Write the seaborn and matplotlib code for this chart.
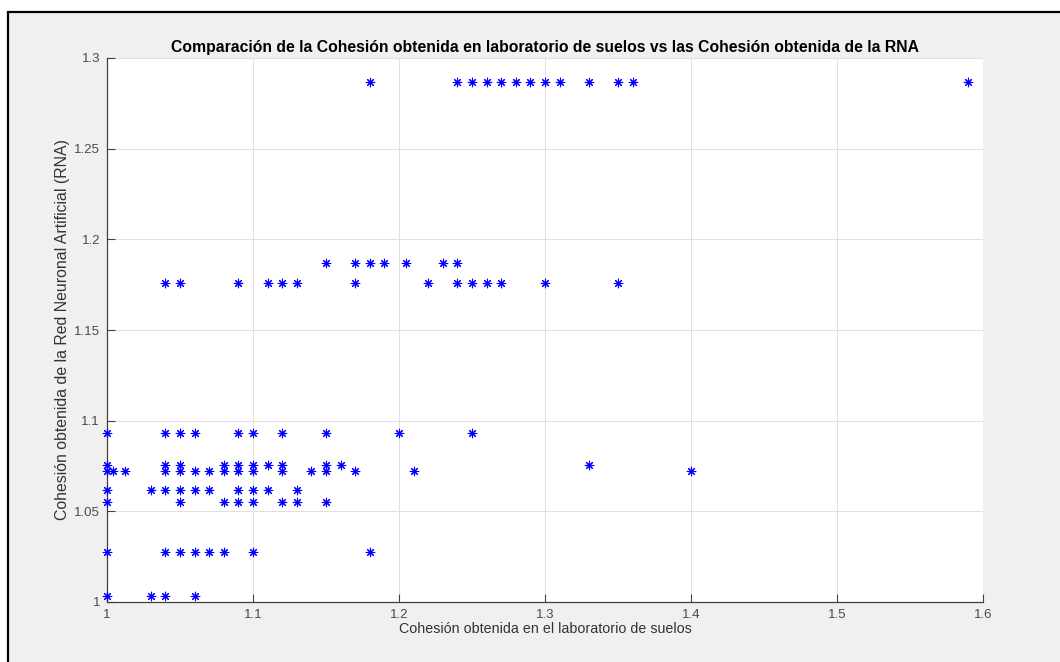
import matplotlib
matplotlib.use("Agg")
import matplotlib.pyplot as plt
from matplotlib.patches import Rectangle
import seaborn as sns
import pandas as pd

# Cohesión obtenida en laboratorio (x) y de la RNA (y)
cohesion_lab = [
    1.18, 1.24, 1.25, 1.26, 1.27, 1.28, 1.29, 1.30, 1.31, 1.33, 1.35, 1.36, 1.59,
    1.15, 1.17, 1.18, 1.19, 1.205, 1.23, 1.24,
    1.04, 1.05, 1.09, 1.11, 1.12, 1.13, 1.17, 1.22, 1.24, 1.25, 1.26, 1.27, 1.30, 1.35,
    1.00, 1.04, 1.05, 1.06, 1.09, 1.10, 1.12, 1.15, 1.20, 1.25,
    1.00, 1.04, 1.05, 1.08, 1.09, 1.10, 1.11, 1.12, 1.15, 1.16, 1.33,
    1.00, 1.004, 1.012, 1.04, 1.05, 1.06, 1.07, 1.08, 1.09, 1.10, 1.12, 1.14, 1.15, 1.17, 1.21, 1.40,
    1.00, 1.03, 1.04, 1.05, 1.06, 1.07, 1.09, 1.10, 1.11, 1.13,
    1.00, 1.05, 1.08, 1.09, 1.10, 1.12, 1.13, 1.15,
    1.00, 1.04, 1.05, 1.06, 1.07, 1.08, 1.10, 1.18,
    1.00, 1.03, 1.04, 1.06,
]
cohesion_rna = [
    1.287, 1.287, 1.287, 1.287, 1.287, 1.287, 1.287, 1.287, 1.287, 1.287, 1.287, 1.287, 1.287,
    1.187, 1.187, 1.187, 1.187, 1.187, 1.187, 1.187,
    1.176, 1.176, 1.176, 1.176, 1.176, 1.176, 1.176, 1.176, 1.176, 1.176, 1.176, 1.176, 1.176, 1.176,
    1.093, 1.093, 1.093, 1.093, 1.093, 1.093, 1.093, 1.093, 1.093, 1.093,
    1.0757, 1.0757, 1.0757, 1.0757, 1.0757, 1.0757, 1.0757, 1.0757, 1.0757, 1.0757, 1.0753,
    1.072, 1.072, 1.072, 1.072, 1.072, 1.072, 1.072, 1.072, 1.072, 1.072, 1.072, 1.072, 1.072, 1.072, 1.072, 1.072,
    1.062, 1.062, 1.062, 1.062, 1.062, 1.062, 1.062, 1.062, 1.062, 1.062,
    1.055, 1.055, 1.055, 1.055, 1.055, 1.055, 1.055, 1.055,
    1.0275, 1.0275, 1.0275, 1.0275, 1.0275, 1.0275, 1.0275, 1.0275,
    1.0035, 1.0035, 1.0035, 1.0035,
]
x_ticks = [1.0, 1.1, 1.2, 1.3, 1.4, 1.5, 1.6]
x_ticklabels = ["1", "1.1", "1.2", "1.3", "1.4", "1.5", "1.6"]
y_ticks = [1.0, 1.05, 1.1, 1.15, 1.2, 1.25, 1.3]
y_ticklabels = ["1", "1.05", "1.1", "1.15", "1.2", "1.25", "1.3"]

title = "Comparación de la Cohesión obtenida en laboratorio de suelos vs las Cohesión obtenida de la RNA"
xlabel = "Cohesión obtenida en el laboratorio de suelos"
ylabel = "Cohesión obtenida de la Red Neuronal Artificial (RNA)"

df = pd.DataFrame({"lab": cohesion_lab, "rna": cohesion_rna})

sns.set_theme(style="white")
plt.rcParams["font.family"] = ["Liberation Sans", "DejaVu Sans"]

fig = plt.figure(figsize=(10.6, 6.62), dpi=100)
fig.patch.set_facecolor("white")
W, H = 1060, 662
frame = Rectangle((8 / W, -0.2), 1.5, (1 - 12 / H) + 0.2, transform=fig.transFigure,
                  facecolor="#f0f0f0", edgecolor="black", linewidth=1.6, zorder=-10)
fig.patches.append(frame)

ax = fig.add_axes([107 / W, 1 - 602 / H, (983 - 107) / W, (602 - 58) / H])
ax.set_zorder(1)
ax.set_facecolor("white")

sns.scatterplot(data=df, x="lab", y="rna", ax=ax, marker=(8, 2, 0), s=38,
                color="#0000ff", edgecolor="#0000ff", linewidth=0.8, legend=False,
                zorder=3, clip_on=False)

ax.set_xlim(1.0, 1.6)
ax.set_ylim(1.0, 1.3)
ax.set_xticks(x_ticks)
ax.set_xticklabels(x_ticklabels)
ax.set_yticks(y_ticks)
ax.set_yticklabels(y_ticklabels)
ax.grid(True, color="#e0e0e0", linewidth=0.7)
ax.set_axisbelow(True)

for s in ["top", "right"]:
    ax.spines[s].set_visible(False)
for s in ["left", "bottom"]:
    ax.spines[s].set_color("#404040")
    ax.spines[s].set_linewidth(0.9)

ax.tick_params(axis="both", direction="in", length=6, width=0.8, color="#404040",
               labelcolor="#4a4a4a", labelsize=9.5, pad=5,
               left=True, bottom=True, top=False, right=False)

ax.set_title(title, fontsize=11.3, fontweight="bold", color="black", pad=4)
ax.set_xlabel(xlabel, fontsize=10.3, color="#333333", labelpad=1)
ax.set_ylabel(ylabel, fontsize=11.4, color="#333333", labelpad=3)

fig.savefig("out.png", dpi=100, facecolor=fig.get_facecolor())
